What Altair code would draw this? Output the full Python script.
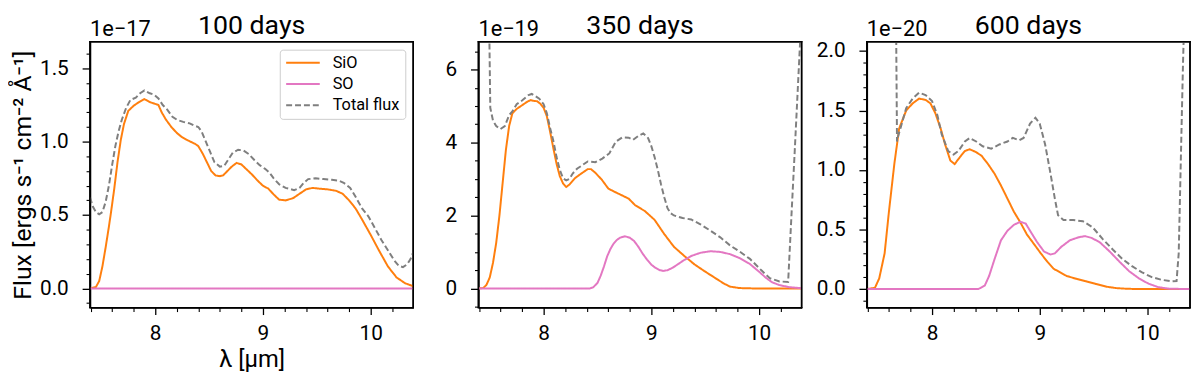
import altair as alt
import pandas as pd

FONT = "Roboto"
SERIES = ["SiO", "SO", "Total flux"]
COLORS = ["#ff7f0e", "#e377c2", "#7f7f7f"]
DASHES = [[1, 0], [1, 0], [6, 3]]

TITLES = ["100 days", "350 days", "600 days"]
EXPONENTS = ["1e\u221217", "1e\u221219", "1e\u221220"]
Y_DOMAINS = [[-0.131, 1.681], [-0.526, 6.76], [-0.156, 2.078]]
Y_MAJOR = [[0.0, 0.5, 1.0, 1.5], [0, 2, 4, 6], [0.0, 0.5, 1.0, 1.5, 2.0]]
Y_MINOR = [
    [-0.1, 0.1, 0.2, 0.3, 0.4, 0.6, 0.7, 0.8, 0.9, 1.1, 1.2, 1.3, 1.4, 1.6],
    [-0.5, 0.5, 1.0, 1.5, 2.5, 3.0, 3.5, 4.5, 5.0, 5.5, 6.5],
    [-0.1, 0.1, 0.2, 0.3, 0.4, 0.6, 0.7, 0.8, 0.9, 1.1, 1.2, 1.3, 1.4, 1.6, 1.7, 1.8, 1.9],
]
Y_FORMATS = [".1f", "d", ".1f"]
X_DOMAIN = [7.395, 10.395]
X_MAJOR = [8, 9, 10]
X_MINOR = [7.4, 7.6, 7.8, 8.2, 8.4, 8.6, 8.8, 9.2, 9.4, 9.6, 9.8, 10.2, 10.4]

# ---------------- 100 days ----------------
SIO100_WL = [7.395, 7.45, 7.48, 7.51, 7.54, 7.57, 7.59, 7.62, 7.65, 7.68, 7.71, 7.75, 7.80,
             7.85, 7.90, 7.95, 7.99, 8.03, 8.06, 8.10, 8.15, 8.20, 8.25, 8.30, 8.37, 8.40,
             8.44, 8.48, 8.52, 8.56, 8.60, 8.63, 8.67, 8.71, 8.755, 8.80, 8.85, 8.90, 8.95,
             9.00, 9.05, 9.10, 9.15, 9.21, 9.28, 9.34, 9.40, 9.46, 9.52, 9.60, 9.68, 9.74,
             9.80, 9.86, 9.92, 10.00, 10.08, 10.16, 10.24, 10.32, 10.395]
SIO100_FLUX = [0.0, 0.01, 0.05, 0.15, 0.28, 0.42, 0.52, 0.68, 0.86, 1.01, 1.12, 1.21, 1.245,
               1.27, 1.29, 1.27, 1.26, 1.25, 1.20, 1.15, 1.10, 1.06, 1.03, 1.01, 0.985, 0.97,
               0.92, 0.86, 0.80, 0.77, 0.765, 0.77, 0.80, 0.83, 0.855, 0.845, 0.81, 0.775, 0.735,
               0.70, 0.68, 0.64, 0.605, 0.60, 0.615, 0.645, 0.675, 0.685, 0.68, 0.675, 0.665, 0.645,
               0.60, 0.545, 0.47, 0.365, 0.255, 0.15, 0.075, 0.035, 0.015]
SO100_WL = [7.395, 8.0, 9.0, 10.0, 10.395]
SO100_FLUX = [0.0, 0.0, 0.0, 0.0, 0.0]
TOT100_WL = [7.395, 7.42, 7.45, 7.48, 7.51, 7.54, 7.57, 7.60, 7.63, 7.66, 7.69, 7.73, 7.77,
             7.82, 7.86, 7.90, 7.95, 7.99, 8.03, 8.07, 8.11, 8.16, 8.20, 8.26, 8.32, 8.36,
             8.40, 8.43, 8.47, 8.51, 8.55, 8.60, 8.64, 8.68, 8.72, 8.77, 8.82, 8.87, 8.92,
             8.97, 9.02, 9.06, 9.10, 9.15, 9.21, 9.29, 9.34, 9.38, 9.42, 9.49, 9.56, 9.64,
             9.70, 9.75, 9.81, 9.86, 9.92, 9.98, 10.04, 10.10, 10.16, 10.22, 10.26, 10.30,
             10.34, 10.37, 10.395]
TOT100_FLUX = [0.62, 0.56, 0.52, 0.505, 0.52, 0.59, 0.70, 0.84, 0.97, 1.07, 1.15, 1.23, 1.285,
               1.30, 1.33, 1.35, 1.33, 1.32, 1.295, 1.25, 1.22, 1.17, 1.15, 1.135, 1.125, 1.11,
               1.10, 1.07, 1.00, 0.93, 0.86, 0.83, 0.835, 0.88, 0.925, 0.945, 0.94, 0.915, 0.875,
               0.84, 0.815, 0.79, 0.75, 0.71, 0.685, 0.67, 0.685, 0.72, 0.745, 0.75, 0.745, 0.74,
               0.735, 0.72, 0.685, 0.625, 0.545, 0.49, 0.41, 0.33, 0.26, 0.19, 0.155, 0.145,
               0.165, 0.20, 0.245]

# ---------------- 350 days ----------------
SIO350_WL = [7.395, 7.44, 7.47, 7.50, 7.53, 7.56, 7.59, 7.62, 7.65, 7.68, 7.71, 7.75, 7.80,
             7.85, 7.88, 7.91, 7.94, 7.97, 8.00, 8.03, 8.06, 8.09, 8.12, 8.15, 8.18, 8.21,
             8.24, 8.29, 8.35, 8.41, 8.44, 8.48, 8.54, 8.60, 8.65, 8.70, 8.79, 8.85, 8.94,
             9.03, 9.12, 9.21, 9.31, 9.40, 9.49, 9.58, 9.67, 9.73, 9.82, 9.95, 10.395]
SIO350_FLUX = [0.0, 0.01, 0.10, 0.30, 0.70, 1.25, 2.0, 2.9, 3.8, 4.45, 4.8, 4.92, 5.02,
               5.12, 5.16, 5.14, 5.13, 5.06, 4.95, 4.72, 4.30, 3.85, 3.42, 3.08, 2.88, 2.78,
               2.85, 3.02, 3.15, 3.27, 3.27, 3.17, 2.98, 2.74, 2.66, 2.59, 2.46, 2.28, 2.12,
               1.88, 1.49, 1.14, 0.88, 0.66, 0.48, 0.31, 0.14, 0.05, 0.01, 0.0, 0.0]
SO350_WL = [7.395, 8.43, 8.46, 8.50, 8.53, 8.56, 8.59, 8.62, 8.65, 8.68, 8.71, 8.755, 8.80,
            8.84, 8.88, 8.92, 8.96, 9.00, 9.04, 9.08, 9.11, 9.15, 9.20, 9.25, 9.30, 9.37,
            9.46, 9.55, 9.64, 9.73, 9.82, 9.91, 10.00, 10.06, 10.12, 10.19, 10.28, 10.395]
SO350_FLUX = [0.0, 0.0, 0.03, 0.15, 0.35, 0.60, 0.88, 1.08, 1.23, 1.33, 1.39, 1.43, 1.39,
              1.30, 1.14, 0.95, 0.79, 0.65, 0.56, 0.50, 0.48, 0.50, 0.57, 0.67, 0.77, 0.89,
              0.98, 1.02, 1.00, 0.94, 0.83, 0.68, 0.46, 0.30, 0.17, 0.09, 0.035, 0.005]
TOT350_WL = [7.495, 7.505, 7.53, 7.56, 7.60, 7.64, 7.68, 7.71, 7.75, 7.80, 7.86, 7.89, 7.92,
             7.96, 8.00, 8.03, 8.06, 8.09, 8.12, 8.15, 8.18, 8.21, 8.24, 8.27, 8.31, 8.35,
             8.41, 8.48, 8.545, 8.61, 8.67, 8.73, 8.79, 8.83, 8.88, 8.925, 8.97, 9.00, 9.03,
             9.06, 9.09, 9.12, 9.15, 9.18, 9.21, 9.29, 9.37, 9.46, 9.55, 9.64, 9.73, 9.82,
             9.915, 10.01, 10.10, 10.19, 10.27, 10.30, 10.33, 10.36, 10.38, 10.395]
TOT350_FLUX = [7.2, 4.95, 4.6, 4.45, 4.37, 4.45, 4.75, 4.85, 5.05, 5.15, 5.30, 5.33, 5.28,
               5.20, 5.05, 4.80, 4.40, 4.05, 3.60, 3.25, 3.02, 2.96, 3.00, 3.15, 3.28, 3.36,
               3.48, 3.46, 3.56, 3.70, 4.02, 4.14, 4.13, 4.07, 4.18, 4.25, 4.12, 3.90, 3.60,
               3.25, 2.85, 2.50, 2.20, 2.06, 2.00, 1.93, 1.89, 1.75, 1.58, 1.40, 1.18, 1.01,
               0.81, 0.53, 0.28, 0.19, 0.18, 1.96, 3.70, 5.50, 6.70, 7.50]

# ---------------- 600 days ----------------
SIO600_WL = [7.395, 7.47, 7.51, 7.56, 7.60, 7.65, 7.695, 7.76, 7.82, 7.88, 7.94, 7.985, 8.03,
             8.08, 8.12, 8.17, 8.21, 8.26, 8.305, 8.35, 8.41, 8.46, 8.52, 8.58, 8.64, 8.70,
             8.76, 8.82, 8.88, 8.945, 9.01, 9.07, 9.13, 9.19, 9.25, 9.34, 9.43, 9.52, 9.62,
             9.71, 9.80, 9.90, 10.395]
SIO600_FLUX = [0.0, 0.01, 0.09, 0.30, 0.65, 1.05, 1.35, 1.50, 1.56, 1.60, 1.59, 1.56, 1.48,
               1.35, 1.22, 1.08, 1.05, 1.11, 1.16, 1.175, 1.15, 1.12, 1.05, 0.97, 0.87, 0.76,
               0.65, 0.56, 0.46, 0.38, 0.30, 0.23, 0.17, 0.14, 0.11, 0.086, 0.065, 0.043, 0.02,
               0.008, 0.003, 0.0, 0.0]
SO600_WL = [7.395, 8.43, 8.49, 8.53, 8.58, 8.64, 8.70, 8.76, 8.82, 8.87, 8.91, 8.975, 9.04,
            9.10, 9.14, 9.20, 9.28, 9.36, 9.42, 9.48, 9.555, 9.65, 9.74, 9.83, 9.92, 10.01,
            10.10, 10.20, 10.395]
SO600_FLUX = [0.0, 0.0, 0.03, 0.11, 0.25, 0.41, 0.49, 0.54, 0.565, 0.55, 0.49, 0.395, 0.315,
              0.29, 0.30, 0.355, 0.41, 0.435, 0.445, 0.43, 0.395, 0.315, 0.23, 0.15, 0.09, 0.045,
              0.016, 0.003, 0.0]
TOT600_WL = [7.665, 7.675, 7.69, 7.71, 7.76, 7.82, 7.88, 7.94, 8.00, 8.05, 8.09, 8.15, 8.20,
             8.245, 8.305, 8.35, 8.41, 8.47, 8.55, 8.625, 8.70, 8.75, 8.81, 8.85, 8.91, 8.96,
             9.00, 9.05, 9.10, 9.14, 9.17, 9.22, 9.31, 9.40, 9.49, 9.585, 9.68, 9.77, 9.86,
             9.95, 10.04, 10.13, 10.225, 10.27, 10.29, 10.31, 10.33, 10.345]
TOT600_FLUX = [2.4, 1.24, 1.30, 1.36, 1.52, 1.60, 1.65, 1.63, 1.58, 1.46, 1.30, 1.16, 1.13,
               1.16, 1.24, 1.27, 1.24, 1.20, 1.18, 1.215, 1.24, 1.27, 1.25, 1.27, 1.39, 1.44,
               1.39, 1.215, 0.97, 0.76, 0.62, 0.58, 0.58, 0.57, 0.52, 0.42, 0.33, 0.25, 0.19,
               0.14, 0.10, 0.078, 0.065, 0.068, 0.30, 1.10, 1.90, 2.40]

PANELS = [
    (SIO100_WL, SIO100_FLUX, SO100_WL, SO100_FLUX, TOT100_WL, TOT100_FLUX),
    (SIO350_WL, SIO350_FLUX, SO350_WL, SO350_FLUX, TOT350_WL, TOT350_FLUX),
    (SIO600_WL, SIO600_FLUX, SO600_WL, SO600_FLUX, TOT600_WL, TOT600_FLUX),
]

W, H = 327, 269
LABEL_FS = 21
FRAME_COLOR = "black"
FRAME_W = 1.5


def make_panel(i):
    sx, sy, ox, oy, tx, ty = PANELS[i]
    df = pd.concat([
        pd.DataFrame({"wl": sx, "flux": sy, "series": SERIES[0], "o": 0}),
        pd.DataFrame({"wl": ox, "flux": oy, "series": SERIES[1], "o": 1}),
        pd.DataFrame({"wl": tx, "flux": ty, "series": SERIES[2], "o": 2}),
    ], ignore_index=True)

    xscale = alt.Scale(domain=X_DOMAIN, nice=False, zero=False)
    yscale = alt.Scale(domain=Y_DOMAINS[i], nice=False, zero=False)

    common_axis = dict(domain=True, domainColor=FRAME_COLOR, domainWidth=FRAME_W,
                       grid=False, tickColor="black", tickWidth=1.3,
                       labelFont=FONT, labelFontSize=LABEL_FS, labelColor="black",
                       titleFont=FONT, titleFontWeight="normal", titleColor="black")

    xaxis = alt.Axis(values=X_MAJOR, format="d", tickSize=7, labelPadding=8,
                     title="λ [µm]" if i == 0 else None, titleFontSize=24, titlePadding=5,
                     orient="bottom", **common_axis)
    yaxis = alt.Axis(values=Y_MAJOR[i], format=Y_FORMATS[i], tickSize=8, labelPadding=14,
                     title="Flux [ergs s⁻¹ cm⁻² Å⁻¹]" if i == 0 else None,
                     titleFontSize=25, titlePadding=4, orient="left", **common_axis)

    if i == 0:
        legend = alt.Legend(title=None, orient="top-right", offset=8,
                            symbolType="M -1 0 L 4 0", symbolSize=185, symbolStrokeWidth=2,
                            labelOffset=32, rowPadding=4.5, padding=5,
                            fillColor="white", strokeColor="#cccccc", cornerRadius=3,
                            labelFont=FONT, labelFontSize=16.5, labelColor="black")
    else:
        legend = None

    lines = alt.Chart(df).mark_line(clip=True, strokeWidth=2).encode(
        x=alt.X("wl:Q", scale=xscale, axis=xaxis),
        y=alt.Y("flux:Q", scale=yscale, axis=yaxis),
        color=alt.Color("series:N", scale=alt.Scale(domain=SERIES, range=COLORS), legend=legend),
        strokeDash=alt.StrokeDash("series:N", scale=alt.Scale(domain=SERIES, range=DASHES),
                                  legend=legend),
        order=alt.Order("o:Q"),
    )

    minor = alt.Chart(df).mark_line(clip=True, opacity=0).encode(
        x=alt.X("wl:Q", scale=xscale,
                axis=alt.Axis(values=X_MINOR, labels=False, tickSize=4, domain=False,
                              grid=False, title=None, orient="bottom", tickColor="black",
                              tickWidth=1.1)),
        y=alt.Y("flux:Q", scale=yscale,
                axis=alt.Axis(values=Y_MINOR[i], labels=False, tickSize=4, domain=False,
                              grid=False, title=None, orient="left", tickColor="black",
                              tickWidth=1.1)),
        detail="series:N",
    )

    # box around the plot area as four thin filled bars (no strokes)
    h = FRAME_W / 2
    side_df = pd.DataFrame({
        "side": ["top", "bottom", "left", "right"],
        "px0": [-h, -h, -h, W - h],
        "px1": [W + h, W + h, h, W + h],
        "py0": [-h, H - h, -h, -h],
        "py1": [h, H + h, H + h, H + h],
    })
    sides = alt.Chart(side_df).mark_rect(color=FRAME_COLOR, strokeWidth=0).encode(
        x=alt.X("px0:Q", scale=None, axis=None),
        x2="px1:Q",
        y=alt.Y("py0:Q", scale=None, axis=None),
        y2="py1:Q",
    )

    tdf = pd.DataFrame({"title": [TITLES[i]], "exp": [EXPONENTS[i]]})
    title = alt.Chart(tdf).mark_text(font=FONT, fontSize=27, align="center",
                                     baseline="alphabetic", color="black").encode(
        x=alt.value(W / 2), y=alt.value(-8), text="title:N")
    expo = alt.Chart(tdf).mark_text(font=FONT, fontSize=22, align="left",
                                    baseline="alphabetic", color="black").encode(
        x=alt.value(0), y=alt.value(-6), text="exp:N")

    return alt.layer(lines, minor, sides, title, expo).resolve_axis(
        x="independent", y="independent").properties(width=W, height=H)


chart = alt.hconcat(make_panel(0), make_panel(1), make_panel(2), spacing=66,
                    bounds="flush").resolve_scale(
    color="independent", strokeDash="independent"
).properties(
    padding={"left": 2, "top": 1, "right": 0, "bottom": 0},
    background="white",
).configure_view(stroke=FRAME_COLOR, strokeWidth=FRAME_W)

chart.save("out.html", embed_options={"renderer": "svg", "actions": False})
